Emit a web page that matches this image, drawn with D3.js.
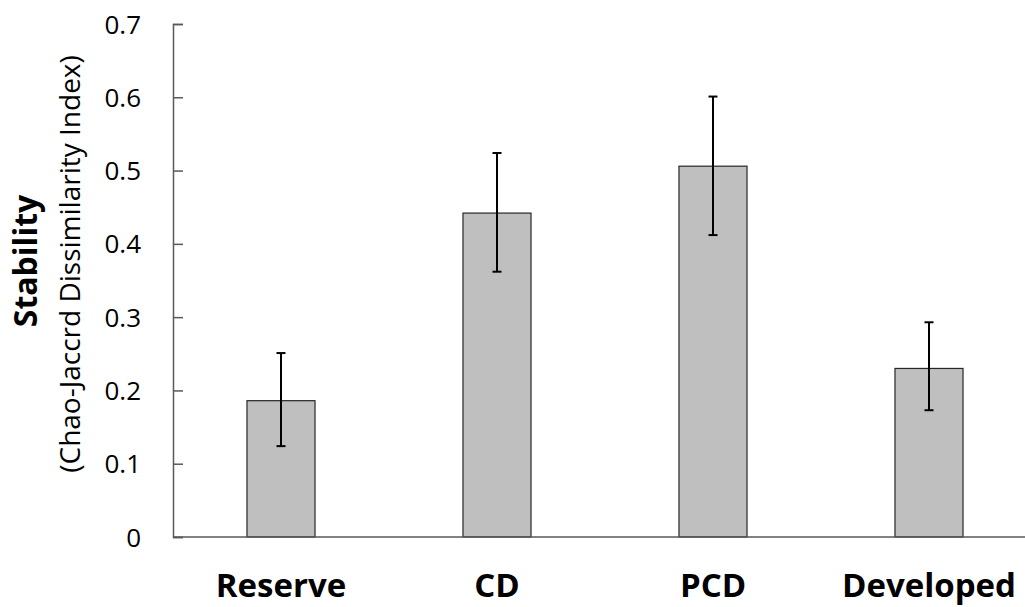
<!DOCTYPE html>
<html>
<head>
<meta charset="utf-8">
<script src="https://cdn.jsdelivr.net/npm/d3@7"></script>
<style>
  body { margin: 0; background: #fff; }
  svg { display: block; }
  text { font-family: "Open Sans", "Noto Sans", sans-serif; fill: #000; }
</style>
</head>
<body>
<div id="chart"></div>
<script>
// data
const categories = ["Reserve", "CD", "PCD", "Developed"];
const means = [0.186, 0.442, 0.506, 0.230];
const errHigh = [0.251, 0.524, 0.601, 0.293];
const errLow = [0.124, 0.362, 0.412, 0.173];
const yTicks = [0, 0.1, 0.2, 0.3, 0.4, 0.5, 0.6, 0.7];

const width = 1025, height = 607;
const margin = { top: 24, right: -12, bottom: 70, left: 173 };

const svg = d3.select("#chart").append("svg")
  .attr("width", width)
  .attr("height", height);

const x = d3.scaleBand()
  .domain(categories)
  .range([margin.left, width - margin.right])
  .padding(0);

const y = d3.scaleLinear()
  .domain([0, 0.7])
  .range([height - margin.bottom, margin.top]);

const barW = x.bandwidth() * 0.315;

// y axis, ticks point inward
const yAxis = svg.append("g")
  .attr("transform", `translate(${margin.left},0)`)
  .call(d3.axisRight(y).tickValues(yTicks).tickSize(10).tickFormat(d => d === 0 ? "0" : d3.format(".1f")(d)));
yAxis.select(".domain").attr("stroke", "#595959").attr("stroke-width", 1.5);
yAxis.selectAll(".tick line").attr("stroke", "#595959").attr("stroke-width", 1.5);
yAxis.selectAll(".tick text")
  .attr("x", -32)
  .attr("dy", "0.35em")
  .attr("text-anchor", "end")
  .attr("font-size", "26px");

// bars
svg.append("g")
  .selectAll("rect")
  .data(means)
  .join("rect")
  .attr("x", (d, i) => x(categories[i]) + x.bandwidth() / 2 - barW / 2)
  .attr("y", d => y(d))
  .attr("width", barW)
  .attr("height", d => y(0) - y(d))
  .attr("fill", "#bfbfbf")
  .attr("stroke", "#262626")
  .attr("stroke-width", 1.2);

// x axis line
svg.append("line")
  .attr("x1", margin.left)
  .attr("x2", width)
  .attr("y1", y(0))
  .attr("y2", y(0))
  .attr("stroke", "#595959")
  .attr("stroke-width", 1.5);

// error bars
const eb = svg.append("g").attr("stroke", "#000").attr("stroke-width", 2);
categories.forEach((c, i) => {
  const cx = x(c) + x.bandwidth() / 2;
  eb.append("line").attr("x1", cx).attr("x2", cx).attr("y1", y(errHigh[i])).attr("y2", y(errLow[i]));
  eb.append("line").attr("x1", cx - 4.5).attr("x2", cx + 4.5).attr("y1", y(errHigh[i])).attr("y2", y(errHigh[i]));
  eb.append("line").attr("x1", cx - 4.5).attr("x2", cx + 4.5).attr("y1", y(errLow[i])).attr("y2", y(errLow[i]));
});

// category labels
svg.append("g")
  .selectAll("text")
  .data(categories)
  .join("text")
  .attr("x", d => x(d) + x.bandwidth() / 2)
  .attr("y", 597)
  .attr("text-anchor", "middle")
  .attr("font-size", "33px")
  .attr("font-weight", "bold")
  .text(d => d);

// y titles
svg.append("text")
  .attr("transform", "translate(37,261) rotate(-90)")
  .attr("text-anchor", "middle")
  .attr("font-size", "32px")
  .attr("font-weight", "bold")
  .text("Stability");

svg.append("text")
  .attr("transform", "translate(80,264) rotate(-90)")
  .attr("text-anchor", "middle")
  .attr("font-size", "28px")
  .text("(Chao-Jaccrd Dissimilarity Index)");
</script>
</body>
</html>
